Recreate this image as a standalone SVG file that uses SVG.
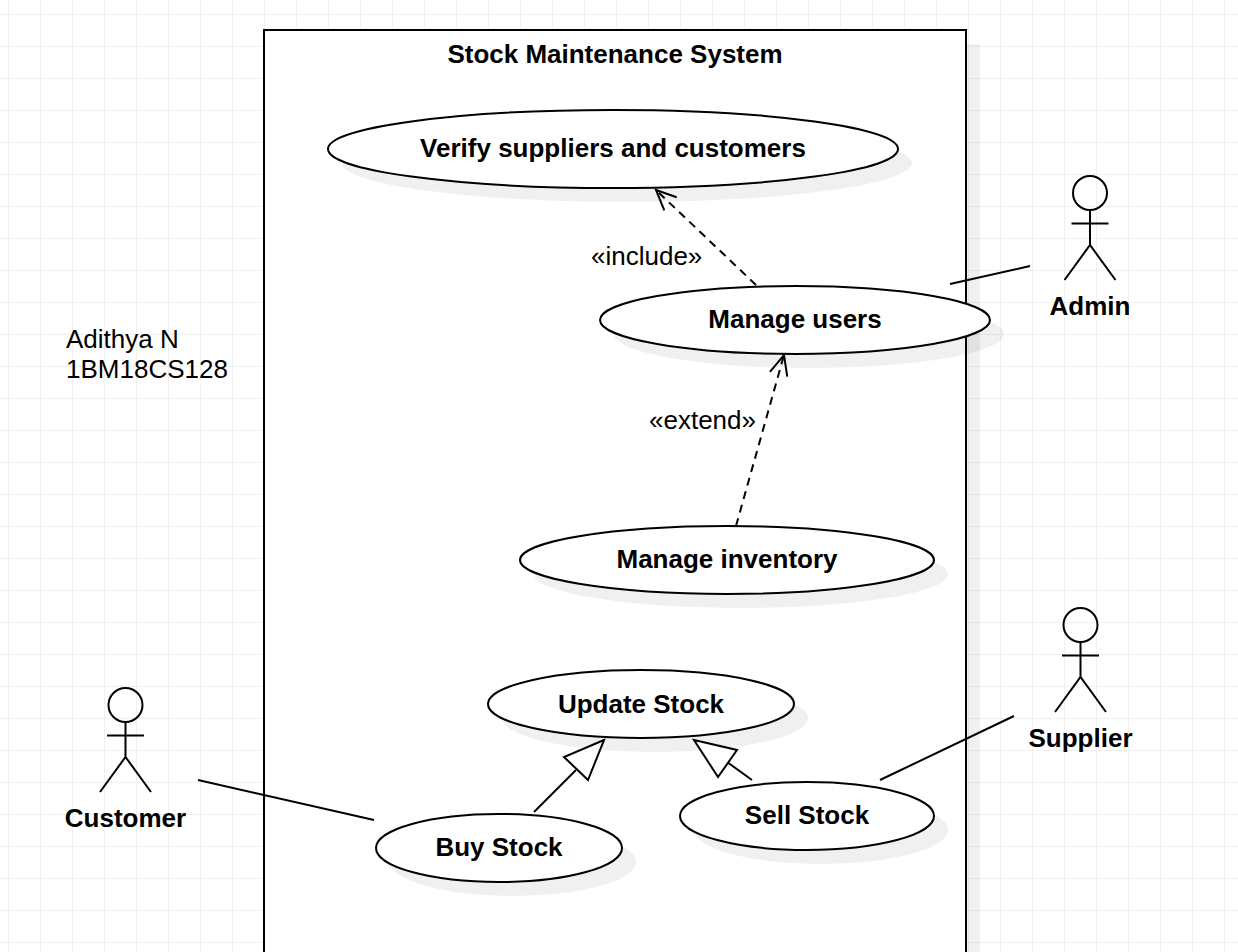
<svg xmlns="http://www.w3.org/2000/svg" width="1238" height="952" viewBox="0 0 1238 952">
<defs>
<pattern id="grid" width="32" height="32" patternUnits="userSpaceOnUse" x="8" y="14"><path d="M0.5 0V32M0 0.5H32" fill="none" stroke="#f0f0f0" stroke-width="1"/></pattern>
<marker id="open" markerUnits="userSpaceOnUse" markerWidth="26" markerHeight="24" refX="23" refY="12" orient="auto" viewBox="0 0 26 24"><path d="M3 3L23 12L3 21" fill="none" stroke="#000" stroke-width="2"/></marker>
</defs>
<style>
text{font-family:"Liberation Sans",Arial,sans-serif;font-size:26px;fill:#000}
.b{font-weight:bold;text-anchor:middle}
.u{fill:#fff;stroke:#000;stroke-width:2}
.s{fill:#000;fill-opacity:.06;stroke:none}
.l{fill:none;stroke:#000;stroke-width:2}
.d{fill:none;stroke:#000;stroke-width:2;stroke-dasharray:8 6}
</style>
<rect width="1238" height="952" fill="#fff"/>
<rect width="1238" height="952" fill="url(#grid)"/>
<g id="system">
<rect class="s" x="278" y="44" width="702" height="920"/>
<rect class="u" x="264" y="30" width="702" height="930"/>
<text class="b" x="615" y="63">Stock Maintenance System</text>
</g>
<g id="verify">
<ellipse class="s" cx="627" cy="163" rx="285" ry="39"/>
<ellipse class="u" cx="613" cy="149" rx="285" ry="39"/>
<text class="b" x="613" y="157">Verify suppliers and customers</text>
</g>
<g id="manage-users">
<ellipse class="s" cx="809" cy="334" rx="195" ry="34"/>
<ellipse class="u" cx="795" cy="320" rx="195" ry="34"/>
<text class="b" x="795" y="328">Manage users</text>
</g>
<g id="manage-inventory">
<ellipse class="s" cx="741" cy="574" rx="207" ry="34"/>
<ellipse class="u" cx="727" cy="560" rx="207" ry="34"/>
<text class="b" x="727" y="568">Manage inventory</text>
</g>
<g id="update-stock">
<ellipse class="s" cx="655" cy="718" rx="153" ry="34"/>
<ellipse class="u" cx="641" cy="704" rx="153" ry="34"/>
<text class="b" x="641" y="713">Update Stock</text>
</g>
<g id="sell-stock">
<ellipse class="s" cx="821" cy="830" rx="127" ry="34"/>
<ellipse class="u" cx="807" cy="816" rx="127" ry="34"/>
<text class="b" x="807" y="824">Sell Stock</text>
</g>
<g id="buy-stock">
<ellipse class="s" cx="513" cy="862" rx="123" ry="34"/>
<ellipse class="u" cx="499" cy="848" rx="123" ry="34"/>
<text class="b" x="499" y="856">Buy Stock</text>
</g>
<g id="connectors">
<path class="d" d="M756 285L656 190" marker-end="url(#open)"/>
<path class="d" d="M736 526L784 355" marker-end="url(#open)"/>
<path class="l" d="M534 812L576 770"/>
<path class="u" d="M604 740L564 757L588 780Z"/>
<path class="l" d="M752 780L727 762"/>
<path class="u" d="M694 740L737 750L718 777Z"/>
<path class="l" d="M950 284L1030 266"/>
<path class="l" d="M880 780L1014 716"/>
<path class="l" d="M198 780L374 820"/>
</g>
<g id="admin">
<circle class="l" cx="1090" cy="193" r="17"/>
<path class="l" d="M1090 210V245M1071.500 223.500H1108.500M1064.500 280L1090 245L1115.500 280"/>
<text class="b" x="1090" y="315">Admin</text>
</g>
<g id="supplier">
<circle class="l" cx="1080.500" cy="625" r="17"/>
<path class="l" d="M1080.500 642V677M1062 655.500H1099M1055 712L1080.500 677L1106 712"/>
<text class="b" x="1080.500" y="747">Supplier</text>
</g>
<g id="customer">
<circle class="l" cx="125.500" cy="705" r="17"/>
<path class="l" d="M125.500 722V757M107 735.500H144M100 792L125.500 757L151 792"/>
<text class="b" x="125.500" y="827">Customer</text>
</g>
<g id="labels">
<text x="591" y="265">«include»</text>
<text x="649" y="429">«extend»</text>
<text x="66" y="348">Adithya N</text>
<text x="66" y="378">1BM18CS128</text>
</g>
</svg>
